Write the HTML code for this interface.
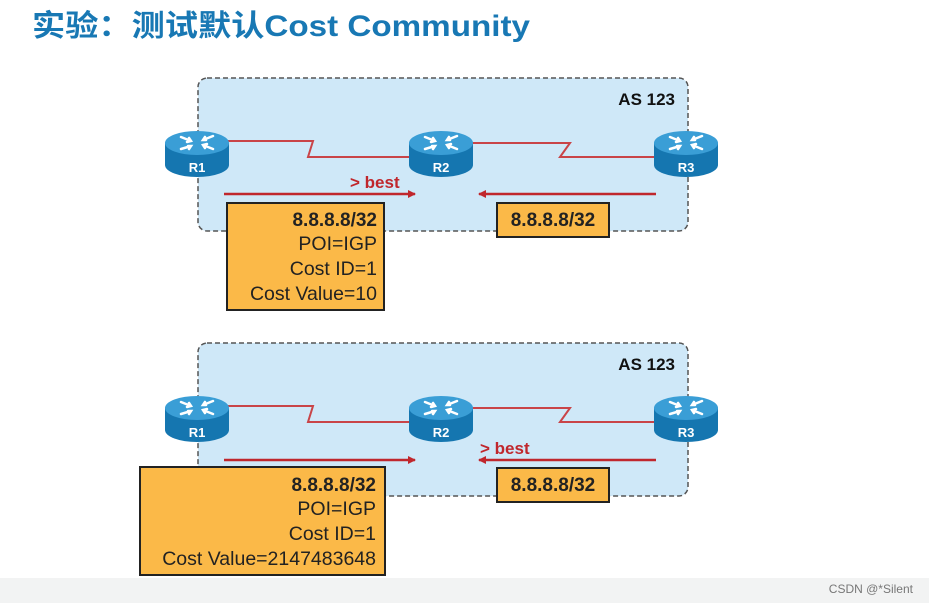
<!DOCTYPE html>
<html><head><meta charset="utf-8"><style>
html,body{margin:0;padding:0;background:#fff;}
svg{display:block;font-family:"Liberation Sans","Noto Sans CJK SC",sans-serif;}
</style></head><body>
<svg width="929" height="603" viewBox="0 0 929 603" xmlns="http://www.w3.org/2000/svg">
<defs>
<g id="rt">
<path d="M-32,-12 L-32,10 A32,12 0 0 0 32,10 L32,-12 Z" fill="#1576b0"/>
<ellipse cx="0" cy="-12" rx="32" ry="12" fill="#3a9ed6"/>
<g stroke="#fff" stroke-width="2.5" fill="none" stroke-linecap="round">
<path d="M-16,-18 L-6,-14 M-8,-17 L-6,-14 L-10,-13"/>
<path d="M16,-6 L6,-10 M8,-7 L6,-10 L10,-11"/>
<path d="M16,-19 L6,-15 M9,-15 L6,-15 L8,-18"/>
<path d="M-16,-6 L-6,-9 M-9,-9 L-6,-9 L-8,-6"/>
</g>
</g>
<marker id="ar" markerWidth="8" markerHeight="8" refX="7" refY="4" orient="auto" markerUnits="userSpaceOnUse"><path d="M0,0 L8,4 L0,8 Z" fill="#c0272d"/></marker>
</defs>
<rect x="0" y="578" width="929" height="25" fill="#f2f3f3"/>
<text x="32" y="36" font-size="30" font-weight="bold" fill="#1878b4" textLength="498" lengthAdjust="spacingAndGlyphs">实验：测试默认Cost Community</text>

<g id="p1">
<rect x="198" y="78" width="490" height="153" rx="9" fill="#cfe8f8" stroke="#555" stroke-width="1.5" stroke-dasharray="5,3"/>
<text x="675" y="105" font-size="17" font-weight="bold" text-anchor="end" fill="#111">AS 123</text>
<polyline points="225,141 313,141 308,157 415,157" fill="none" stroke="#c94448" stroke-width="2"/>
<polyline points="470,143 570,143 560,157 660,157" fill="none" stroke="#c94448" stroke-width="2"/>
<use href="#rt" x="197" y="155"/><text x="197" y="172" font-size="13" font-weight="bold" fill="#fff" text-anchor="middle">R1</text>
<use href="#rt" x="441" y="155"/><text x="441" y="172" font-size="13" font-weight="bold" fill="#fff" text-anchor="middle">R2</text>
<use href="#rt" x="686" y="155"/><text x="686" y="172" font-size="13" font-weight="bold" fill="#fff" text-anchor="middle">R3</text>
</g>
<line x1="224" y1="194" x2="415" y2="194" stroke="#c0272d" stroke-width="2.5" marker-end="url(#ar)"/>
<line x1="656" y1="194" x2="479" y2="194" stroke="#c0272d" stroke-width="2.5" marker-end="url(#ar)"/>
<text x="350" y="188" font-size="17" font-weight="bold" fill="#c0272d">&gt; best</text>
<rect x="227" y="203" width="157" height="107" fill="#fbb948" stroke="#222" stroke-width="2"/>
<g font-size="19.5" text-anchor="end" fill="#222"><text x="377" y="226" font-weight="bold" font-size="19">8.8.8.8/32</text><text x="377" y="250">POI=IGP</text><text x="377" y="275">Cost ID=1</text><text x="377" y="300">Cost Value=10</text></g>
<rect x="497" y="203" width="112" height="34" fill="#fbb948" stroke="#222" stroke-width="2"/>
<text x="553" y="226" font-size="19" font-weight="bold" text-anchor="middle" fill="#222">8.8.8.8/32</text>

<use href="#p1" y="265"/>
<line x1="224" y1="460" x2="415" y2="460" stroke="#c0272d" stroke-width="2.5" marker-end="url(#ar)"/>
<line x1="656" y1="460" x2="479" y2="460" stroke="#c0272d" stroke-width="2.5" marker-end="url(#ar)"/>
<text x="480" y="454" font-size="17" font-weight="bold" fill="#c0272d">&gt; best</text>
<rect x="140" y="467" width="245" height="108" fill="#fbb948" stroke="#222" stroke-width="2"/>
<g font-size="19.5" text-anchor="end" fill="#222"><text x="376" y="491" font-weight="bold" font-size="19">8.8.8.8/32</text><text x="376" y="515">POI=IGP</text><text x="376" y="540">Cost ID=1</text><text x="376" y="565">Cost Value=2147483648</text></g>
<rect x="497" y="468" width="112" height="34" fill="#fbb948" stroke="#222" stroke-width="2"/>
<text x="553" y="491" font-size="19" font-weight="bold" text-anchor="middle" fill="#222">8.8.8.8/32</text>

<text x="913" y="593" font-size="12" text-anchor="end" fill="#777">CSDN @*Silent</text>
</svg>
</body></html>
